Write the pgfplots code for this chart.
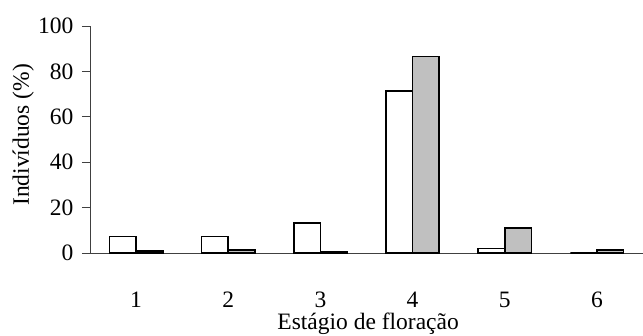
\documentclass[border=0pt]{standalone}
\usepackage{pgfplots}
\pgfplotsset{compat=1.18}
\usepackage{fontspec}
\setmainfont{Liberation Serif}
\definecolor{bargray}{RGB}{192,192,192}
\begin{document}
\begin{tikzpicture}
\path[use as bounding box] (-90pt,-83pt) rectangle (553pt,253pt);
\begin{axis}[
  at={(0pt,0pt)}, anchor=south west,
  scale only axis, width=553pt, height=227pt,
  xmin=0.5, xmax=6.5, ymin=0, ymax=100,
  axis x line=bottom, axis y line=left,
  axis line style={-, black!75, line width=0.8pt},
  ybar=0pt, bar width=0.289,
  xtick={1,...,6},
  xtick style={draw=none},
  extra x ticks={0.5,1.5,2.5,3.5,4.5,5.5},
  extra x tick labels={},
  extra x tick style={tick style={black!75, line width=0.8pt, draw}, major tick length=8pt, tick align=outside},
  ytick={0,20,...,100},
  ytick style={black!75, line width=0.8pt},
  tick align=outside, major tick length=8pt,
  /pgf/number format/assume math mode=true,
  ticklabel style={font=\fontsize{23.5}{28}\selectfont},
  xticklabel style={anchor=base, yshift=-47pt},
  yticklabel style={anchor=east, xshift=-5pt},
  xlabel={Estágio de floração},
  ylabel={Indivíduos (\%)},
  every axis x label/.style={at={(rel axis cs:0.503,-0.339)}, anchor=base, font=\fontsize{23.5}{28}\selectfont},
  every axis y label/.style={at={(rel axis cs:-0.121,0.52)}, rotate=90, anchor=center, font=\fontsize{23.5}{28}\selectfont},
  clip=false,
]
\addplot[draw=black, line width=1.6pt, fill=white] coordinates {(1,7.2) (2,7.2) (3,13.1) (4,71.4) (5,1.9) (6,0)};
\addplot[draw=black, line width=1.6pt, fill=bargray] coordinates {(1,1.0) (2,1.3) (3,0.5) (4,86.5) (5,10.9) (6,1.4)};
\end{axis}
\end{tikzpicture}
\end{document}
